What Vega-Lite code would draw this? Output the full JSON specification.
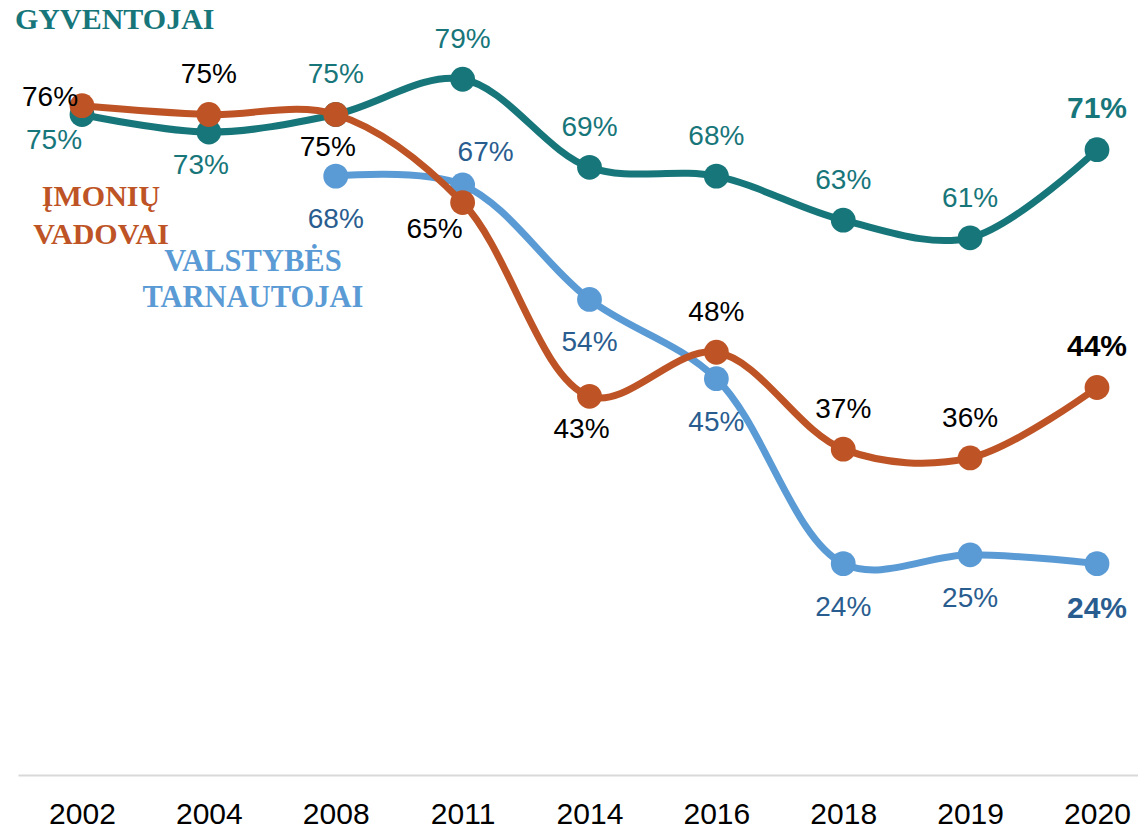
{
  "$schema": "https://vega.github.io/schema/vega-lite/v6.json",
  "width": 1120,
  "height": 775,
  "autosize": {"type": "none"},
  "padding": {"left": 18, "top": 0, "right": 0, "bottom": 53},
  "background": "white",
  "config": {
    "view": {"stroke": null},
    "axisX": {
      "title": null, "domainColor": "#d9d9d9", "domainWidth": 2, "ticks": false,
      "labelFontSize": 30, "labelColor": "#000000", "labelFont": "Liberation Sans",
      "labelPadding": 24, "grid": false, "labelAngle": 0
    },
    "text": {"font": "Liberation Sans", "fontSize": 28, "baseline": "middle", "align": "center"}
  },
  "datasets": {
    "main": [
      {"year": "2002", "series": "GYVENTOJAI", "value": 75, "pos": "lb"},
      {"year": "2004", "series": "GYVENTOJAI", "value": 73, "pos": "bs"},
      {"year": "2008", "series": "GYVENTOJAI", "value": 75, "pos": "a"},
      {"year": "2011", "series": "GYVENTOJAI", "value": 79, "pos": "a"},
      {"year": "2014", "series": "GYVENTOJAI", "value": 69, "pos": "a"},
      {"year": "2016", "series": "GYVENTOJAI", "value": 68, "pos": "a"},
      {"year": "2018", "series": "GYVENTOJAI", "value": 63, "pos": "a"},
      {"year": "2019", "series": "GYVENTOJAI", "value": 61, "pos": "a"},
      {"year": "2020", "series": "GYVENTOJAI", "value": 71, "pos": "a"},
      {"year": "2002", "series": "ĮMONIŲ VADOVAI", "value": 76, "pos": "la"},
      {"year": "2004", "series": "ĮMONIŲ VADOVAI", "value": 75, "pos": "a"},
      {"year": "2008", "series": "ĮMONIŲ VADOVAI", "value": 75, "pos": "bs"},
      {"year": "2011", "series": "ĮMONIŲ VADOVAI", "value": 65, "pos": "lb"},
      {"year": "2014", "series": "ĮMONIŲ VADOVAI", "value": 43, "pos": "bs"},
      {"year": "2016", "series": "ĮMONIŲ VADOVAI", "value": 48, "pos": "a"},
      {"year": "2018", "series": "ĮMONIŲ VADOVAI", "value": 37, "pos": "a"},
      {"year": "2019", "series": "ĮMONIŲ VADOVAI", "value": 36, "pos": "a"},
      {"year": "2020", "series": "ĮMONIŲ VADOVAI", "value": 44, "pos": "a"},
      {"year": "2008", "series": "VALSTYBĖS TARNAUTOJAI", "value": 68, "pos": "b"},
      {"year": "2011", "series": "VALSTYBĖS TARNAUTOJAI", "value": 67, "pos": "ra"},
      {"year": "2014", "series": "VALSTYBĖS TARNAUTOJAI", "value": 54, "pos": "b"},
      {"year": "2016", "series": "VALSTYBĖS TARNAUTOJAI", "value": 45, "pos": "b"},
      {"year": "2018", "series": "VALSTYBĖS TARNAUTOJAI", "value": 24, "pos": "b"},
      {"year": "2019", "series": "VALSTYBĖS TARNAUTOJAI", "value": 25, "pos": "b"},
      {"year": "2020", "series": "VALSTYBĖS TARNAUTOJAI", "value": 24, "pos": "b"}
    ],
    "notes": [
      {"series": "GYVENTOJAI", "year": "2002", "value": 85.7, "label": "GYVENTOJAI"},
      {"series": "ĮMONIŲ VADOVAI", "year": "2002", "value": 65.6, "label": "ĮMONIŲ\nVADOVAI"},
      {"series": "VALSTYBĖS TARNAUTOJAI", "year": "2004", "value": 58.2, "label": "VALSTYBĖS\nTARNAUTOJAI"}
    ]
  },
  "data": {"name": "main"},
  "transform": [{"calculate": "datum.value + '%'", "as": "pct"}],
  "encoding": {
    "x": {
      "field": "year", "type": "ordinal", "sort": null,
      "scale": {"type": "point", "padding": 0.4138, "align": 0.6095,
        "domain": ["2002", "2004", "2008", "2011", "2014", "2016", "2018", "2019", "2020"]}
    },
    "y": {"field": "value", "type": "quantitative", "scale": {"domain": [0, 88], "nice": false, "zero": true}, "axis": null}
  },
  "layer": [
    {
      "transform": [{"filter": "datum.series === 'GYVENTOJAI'"}],
      "mark": {"type": "line", "interpolate": "catmull-rom", "strokeWidth": 7, "color": "#17767A"}
    },
    {
      "transform": [{"filter": "datum.series === 'GYVENTOJAI'"}],
      "mark": {"type": "point", "filled": true, "size": 615, "opacity": 1, "color": "#17767A", "shape": "circle"}
    },
    {
      "transform": [{"filter": "datum.series === 'VALSTYBĖS TARNAUTOJAI'"}],
      "mark": {"type": "line", "interpolate": "catmull-rom", "strokeWidth": 7, "color": "#5B9BD5"}
    },
    {
      "transform": [{"filter": "datum.series === 'VALSTYBĖS TARNAUTOJAI'"}],
      "mark": {"type": "point", "filled": true, "size": 615, "opacity": 1, "color": "#5B9BD5", "shape": "circle"}
    },
    {
      "transform": [{"filter": "datum.series === 'ĮMONIŲ VADOVAI'"}],
      "mark": {"type": "line", "interpolate": "catmull-rom", "strokeWidth": 7, "color": "#BE5425"}
    },
    {
      "transform": [{"filter": "datum.series === 'ĮMONIŲ VADOVAI'"}],
      "mark": {"type": "point", "filled": true, "size": 615, "opacity": 1, "color": "#BE5425", "shape": "circle"}
    },
    {
      "transform": [{"filter": "datum.pos === 'a' && datum.year !== '2020'"}],
      "mark": {"type": "text", "dy": -39},
      "encoding": {
        "text": {"field": "pct", "type": "nominal"},
        "color": {"field": "series", "type": "nominal", "legend": null,
          "scale": {"domain": ["GYVENTOJAI", "ĮMONIŲ VADOVAI", "VALSTYBĖS TARNAUTOJAI"], "range": ["#17767A", "#000000", "#2A5D8F"]}}
      }
    },
    {
      "transform": [{"filter": "datum.pos === 'b' && datum.year !== '2020'"}],
      "mark": {"type": "text", "dy": 44},
      "encoding": {
        "text": {"field": "pct", "type": "nominal"},
        "color": {"field": "series", "type": "nominal", "legend": null,
          "scale": {"domain": ["GYVENTOJAI", "ĮMONIŲ VADOVAI", "VALSTYBĖS TARNAUTOJAI"], "range": ["#17767A", "#000000", "#2A5D8F"]}}
      }
    },
    {
      "transform": [{"filter": "datum.pos === 'bs'"}],
      "mark": {"type": "text", "dy": 34, "dx": -8},
      "encoding": {
        "text": {"field": "pct", "type": "nominal"},
        "color": {"field": "series", "type": "nominal", "legend": null,
          "scale": {"domain": ["GYVENTOJAI", "ĮMONIŲ VADOVAI", "VALSTYBĖS TARNAUTOJAI"], "range": ["#17767A", "#000000", "#2A5D8F"]}}
      }
    },
    {
      "transform": [{"filter": "datum.pos === 'lb'"}],
      "mark": {"type": "text", "dy": 27, "dx": -28},
      "encoding": {
        "text": {"field": "pct", "type": "nominal"},
        "color": {"field": "series", "type": "nominal", "legend": null,
          "scale": {"domain": ["GYVENTOJAI", "ĮMONIŲ VADOVAI", "VALSTYBĖS TARNAUTOJAI"], "range": ["#17767A", "#000000", "#2A5D8F"]}}
      }
    },
    {
      "transform": [{"filter": "datum.pos === 'la'"}],
      "mark": {"type": "text", "dy": -8, "dx": -32},
      "encoding": {
        "text": {"field": "pct", "type": "nominal"},
        "color": {"field": "series", "type": "nominal", "legend": null,
          "scale": {"domain": ["GYVENTOJAI", "ĮMONIŲ VADOVAI", "VALSTYBĖS TARNAUTOJAI"], "range": ["#17767A", "#000000", "#2A5D8F"]}}
      }
    },
    {
      "transform": [{"filter": "datum.pos === 'ra'"}],
      "mark": {"type": "text", "dy": -32, "dx": 23},
      "encoding": {
        "text": {"field": "pct", "type": "nominal"},
        "color": {"field": "series", "type": "nominal", "legend": null,
          "scale": {"domain": ["GYVENTOJAI", "ĮMONIŲ VADOVAI", "VALSTYBĖS TARNAUTOJAI"], "range": ["#17767A", "#000000", "#2A5D8F"]}}
      }
    },
    {
      "transform": [{"filter": "datum.pos === 'a' && datum.year === '2020'"}],
      "mark": {"type": "text", "dy": -41, "fontWeight": "bold", "fontSize": 30},
      "encoding": {
        "text": {"field": "pct", "type": "nominal"},
        "color": {"field": "series", "type": "nominal", "legend": null,
          "scale": {"domain": ["GYVENTOJAI", "ĮMONIŲ VADOVAI", "VALSTYBĖS TARNAUTOJAI"], "range": ["#17767A", "#000000", "#2A5D8F"]}}
      }
    },
    {
      "transform": [{"filter": "datum.pos === 'b' && datum.year === '2020'"}],
      "mark": {"type": "text", "dy": 45, "fontWeight": "bold", "fontSize": 30},
      "encoding": {
        "text": {"field": "pct", "type": "nominal"},
        "color": {"field": "series", "type": "nominal", "legend": null,
          "scale": {"domain": ["GYVENTOJAI", "ĮMONIŲ VADOVAI", "VALSTYBĖS TARNAUTOJAI"], "range": ["#17767A", "#000000", "#2A5D8F"]}}
      }
    },
    {
      "data": {"name": "notes"},
      "transform": [{"filter": "datum.series === 'GYVENTOJAI'"}],
      "mark": {"type": "text", "font": "Liberation Serif", "fontWeight": "bold", "fontSize": 30, "align": "left", "dx": -67, "color": "#17767A"},
      "encoding": {"text": {"field": "label"}}
    },
    {
      "data": {"name": "notes"},
      "transform": [{"filter": "datum.series === 'ĮMONIŲ VADOVAI'"}],
      "mark": {"type": "text", "font": "Liberation Serif", "fontWeight": "bold", "fontSize": 30, "dx": 19, "lineBreak": "\n", "lineHeight": 38, "color": "#BE5425"},
      "encoding": {"text": {"field": "label"}}
    },
    {
      "data": {"name": "notes"},
      "transform": [{"filter": "datum.series === 'VALSTYBĖS TARNAUTOJAI'"}],
      "mark": {"type": "text", "font": "Liberation Serif", "fontWeight": "bold", "fontSize": 30.5, "dx": 44, "lineBreak": "\n", "lineHeight": 36, "color": "#5B9BD5"},
      "encoding": {"text": {"field": "label"}}
    }
  ],
  "resolve": {"scale": {"color": "independent"}}
}
